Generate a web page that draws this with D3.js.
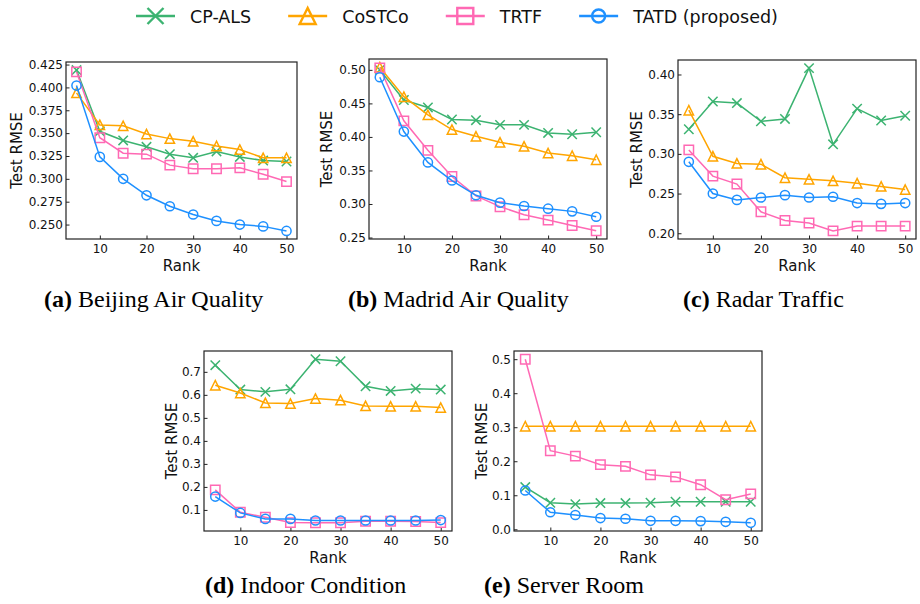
<!DOCTYPE html>
<html>
<head>
<meta charset="utf-8">
<script src="https://cdn.jsdelivr.net/npm/d3@7"></script>
<style>
  body { margin: 0; background: #fff; }
  svg { display: block; }
</style>
</head>
<body>
<script>
// ranks on the x axis, shared by every panel
const ranks = [5, 10, 15, 20, 25, 30, 35, 40, 45, 50];
const rankTicks = [10, 20, 30, 40, 50];

const methods = ["CP-ALS", "CoSTCo", "TRTF", "TATD (proposed)"];
const colors = ["#3cb371", "#ffa500", "#ff69b4", "#1e90ff"];
const shapes = ["x", "triangle", "square", "circle"];

// (a) Beijing Air Quality
const beijingCP    = [0.419, 0.352, 0.342, 0.335, 0.327, 0.323, 0.330, 0.324, 0.320, 0.319];
const beijingCoST  = [0.394, 0.359, 0.358, 0.349, 0.344, 0.341, 0.336, 0.332, 0.323, 0.323];
const beijingTRTF  = [0.417, 0.345, 0.328, 0.327, 0.315, 0.311, 0.311, 0.312, 0.305, 0.297];
const beijingTATD  = [0.402, 0.324, 0.300, 0.282, 0.270, 0.261, 0.254, 0.250, 0.248, 0.243];
const beijingTicks = [0.250, 0.275, 0.300, 0.325, 0.350, 0.375, 0.400, 0.425];

// (b) Madrid Air Quality
const madridCP    = [0.500, 0.455, 0.444, 0.426, 0.425, 0.418, 0.418, 0.406, 0.404, 0.407];
const madridCoST  = [0.504, 0.460, 0.433, 0.411, 0.401, 0.392, 0.386, 0.376, 0.372, 0.366];
const madridTRTF  = [0.503, 0.424, 0.380, 0.341, 0.312, 0.296, 0.284, 0.276, 0.268, 0.260];
const madridTATD  = [0.489, 0.408, 0.362, 0.335, 0.313, 0.302, 0.297, 0.293, 0.289, 0.281];
const madridTicks = [0.25, 0.30, 0.35, 0.40, 0.45, 0.50];

// (c) Radar Traffic
const radarCP    = [0.331, 0.366, 0.364, 0.341, 0.344, 0.408, 0.312, 0.357, 0.342, 0.348];
const radarCoST  = [0.355, 0.297, 0.288, 0.287, 0.270, 0.268, 0.266, 0.263, 0.259, 0.255];
const radarTRTF  = [0.305, 0.272, 0.262, 0.227, 0.216, 0.213, 0.203, 0.209, 0.209, 0.209];
const radarTATD  = [0.290, 0.250, 0.242, 0.245, 0.248, 0.245, 0.246, 0.238, 0.237, 0.238];
const radarTicks = [0.20, 0.25, 0.30, 0.35, 0.40];

// (d) Indoor Condition
const indoorCP    = [0.729, 0.623, 0.613, 0.624, 0.755, 0.746, 0.637, 0.617, 0.627, 0.623];
const indoorCoST  = [0.642, 0.608, 0.565, 0.562, 0.584, 0.577, 0.552, 0.550, 0.550, 0.545];
const indoorTRTF  = [0.187, 0.090, 0.068, 0.045, 0.044, 0.044, 0.051, 0.051, 0.050, 0.045];
const indoorTATD  = [0.158, 0.087, 0.061, 0.061, 0.054, 0.054, 0.054, 0.054, 0.054, 0.056];
const indoorTicks = [0.1, 0.2, 0.3, 0.4, 0.5, 0.6, 0.7];

// (e) Server Room
const serverCP    = [0.124, 0.078, 0.074, 0.077, 0.077, 0.078, 0.081, 0.081, 0.081, 0.081];
const serverCoST  = [0.303, 0.303, 0.303, 0.303, 0.303, 0.303, 0.303, 0.303, 0.303, 0.303];
const serverTRTF  = [0.500, 0.231, 0.215, 0.190, 0.185, 0.160, 0.154, 0.131, 0.087, 0.104];
const serverTATD  = [0.114, 0.050, 0.042, 0.033, 0.031, 0.025, 0.025, 0.024, 0.022, 0.019];
const serverTicks = [0.0, 0.1, 0.2, 0.3, 0.4, 0.5];

// panel layout (frame in pixels) + which arrays go where
const panels = [
  { tag: "(a)", title: "Beijing Air Quality", series: [beijingCP, beijingCoST, beijingTRTF, beijingTATD],
    ticks: beijingTicks, fmt: ".3f", l: 66, r: 297, t: 62, b: 239, ylab: 44, cx: 44, cy: 307 },
  { tag: "(b)", title: "Madrid Air Quality", series: [madridCP, madridCoST, madridTRTF, madridTATD],
    ticks: madridTicks, fmt: ".2f", l: 369, r: 607, t: 59, b: 239, ylab: 37, cx: 348, cy: 307 },
  { tag: "(c)", title: "Radar Traffic", series: [radarCP, radarCoST, radarTRTF, radarTATD],
    ticks: radarTicks, fmt: ".2f", l: 678, r: 916, t: 60, b: 239, ylab: 36, cx: 683, cy: 307 },
  { tag: "(d)", title: "Indoor Condition", series: [indoorCP, indoorCoST, indoorTRTF, indoorTATD],
    ticks: indoorTicks, fmt: ".1f", l: 204, r: 452, t: 351, b: 531, ylab: 27, cx: 205, cy: 593 },
  { tag: "(e)", title: "Server Room", series: [serverCP, serverCoST, serverTRTF, serverTATD],
    ticks: serverTicks, fmt: ".1f", l: 514, r: 762, t: 351, b: 531, ylab: 27, cx: 484, cy: 593 }
];

const W = 920, H = 604;
const svg = d3.select("body").append("svg").attr("width", W).attr("height", H);

// marker path, s = half size
function markerPath(shape, s) {
  if (shape === "x") return `M${-s},${-s}L${s},${s}M${-s},${s}L${s},${-s}`;
  if (shape === "triangle") return `M0,${-s}L${-s},${s}L${s},${s}Z`;
  return `M${-s},${-s}H${s}V${s}H${-s}Z`;
}
function drawMarker(g, shape, color, s, sw) {
  if (shape === "circle") {
    g.append("circle").attr("r", s).attr("fill", "none").attr("stroke", color).attr("stroke-width", sw);
  } else {
    g.append("path").attr("d", markerPath(shape, s)).attr("fill", "none")
      .attr("stroke", color).attr("stroke-width", sw).attr("stroke-linejoin", "miter");
  }
}

panels.forEach(p => {
  const all = p.series.flat();
  const lo = d3.min(all), hi = d3.max(all), pad = (hi - lo) * 0.05;
  const x = d3.scaleLinear().domain([2.75, 52.25]).range([p.l, p.r]);
  const y = d3.scaleLinear().domain([lo - pad, hi + pad]).range([p.b, p.t]);

  const g = svg.append("g");

  // axes, ticks pointing inward
  g.append("g").attr("transform", `translate(0,${p.b})`)
    .call(d3.axisBottom(x).tickValues(rankTicks).tickSize(-3.5).tickPadding(5.5).tickFormat(d3.format("d")))
    .call(a => a.select(".domain").remove())
    .call(a => a.selectAll("text").attr("font-family", "DejaVu Sans").attr("font-size", 12).attr("fill", "#111"))
    .call(a => a.selectAll("line").attr("stroke", "#222"));

  g.append("g").attr("transform", `translate(${p.l},0)`)
    .call(d3.axisLeft(y).tickValues(p.ticks).tickSize(-3.5).tickPadding(3).tickFormat(d3.format(p.fmt)))
    .call(a => a.select(".domain").remove())
    .call(a => a.selectAll("text").attr("font-family", "DejaVu Sans").attr("font-size", 12).attr("fill", "#111"))
    .call(a => a.selectAll("line").attr("stroke", "#222"));

  // frame
  g.append("rect").attr("x", p.l).attr("y", p.t).attr("width", p.r - p.l).attr("height", p.b - p.t)
    .attr("fill", "none").attr("stroke", "#222").attr("stroke-width", 1.2);

  // axis titles
  g.append("text").attr("x", (p.l + p.r) / 2).attr("y", p.b + 32)
    .attr("text-anchor", "middle").attr("font-family", "DejaVu Sans").attr("font-size", 15)
    .attr("fill", "#111").text("Rank");
  g.append("text")
    .attr("transform", `translate(${p.l - p.ylab},${(p.t + p.b) / 2}) rotate(-90)`)
    .attr("text-anchor", "middle").attr("font-family", "DejaVu Sans").attr("font-size", 15)
    .attr("fill", "#111").text("Test RMSE");

  // series
  const line = d3.line().x((d, i) => x(ranks[i])).y(d => y(d));
  p.series.forEach((vals, k) => {
    g.append("path").datum(vals).attr("d", line).attr("fill", "none")
      .attr("stroke", colors[k]).attr("stroke-width", 1.5);
    vals.forEach((v, i) => {
      const m = g.append("g").attr("transform", `translate(${x(ranks[i])},${y(v)})`);
      drawMarker(m, shapes[k], colors[k], shapes[k] === "circle" ? 4.6 : 4.7, 1.5);
    });
  });

  // caption
  const cap = svg.append("text").attr("x", p.cx).attr("y", p.cy)
    .attr("font-family", "Liberation Serif").attr("font-size", 24).attr("fill", "#000");
  cap.append("tspan").attr("font-weight", "bold").text(p.tag);
  cap.append("tspan").text(" " + p.title);
});

// legend across the top
const leg = svg.append("g");
let lx = 136;
methods.forEach((name, k) => {
  const it = leg.append("g").attr("transform", `translate(${lx},16)`);
  it.append("line").attr("x1", 0).attr("x2", 39).attr("stroke", colors[k]).attr("stroke-width", 2.6);
  const m = it.append("g").attr("transform", "translate(19.5,0)");
  drawMarker(m, shapes[k], colors[k], shapes[k] === "circle" ? 6.5 : 8, 2.4);
  const t = it.append("text").attr("x", 54).attr("y", 7).attr("font-family", "DejaVu Sans")
    .attr("font-size", 17.5).attr("fill", "#111").text(name);
  lx += 54 + t.node().getComputedTextLength() + 37;
});
</script>
</body>
</html>
